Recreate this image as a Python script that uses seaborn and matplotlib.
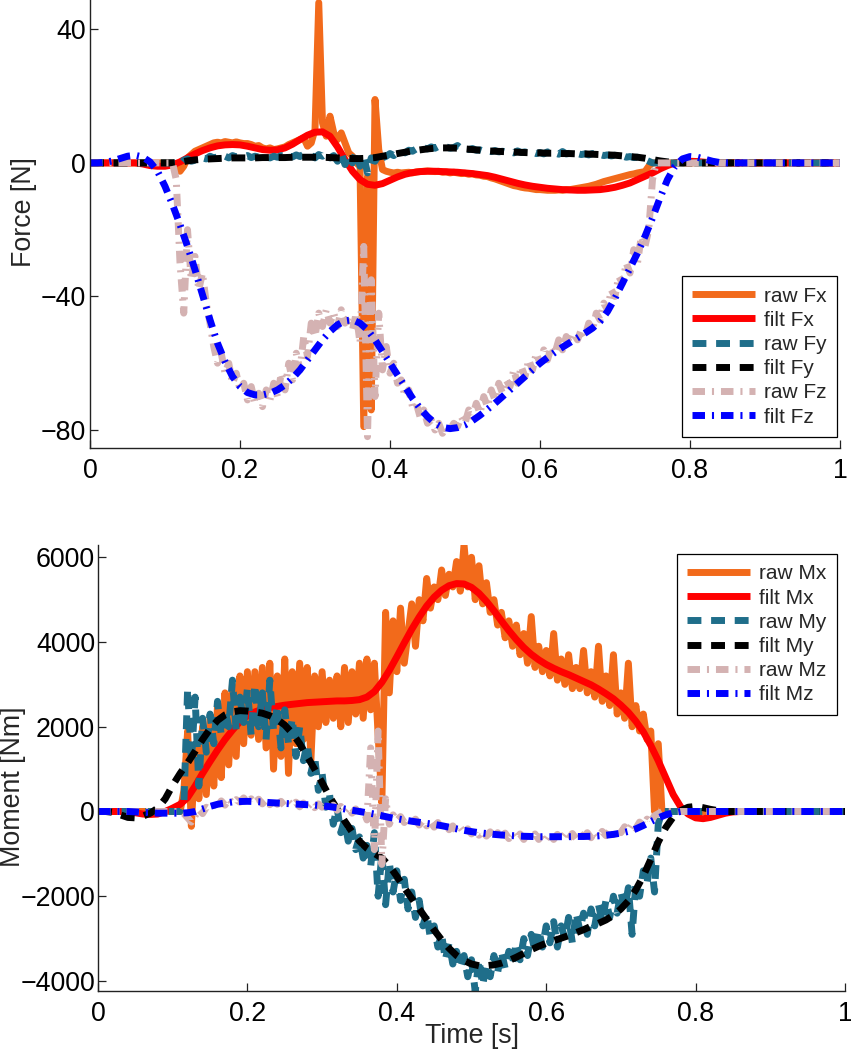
import numpy as np
import matplotlib
matplotlib.use("Agg")
import matplotlib.pyplot as plt
import seaborn as sns

# ---------------- data ----------------
# filtered signals sampled every 0.01 s (0 .. 1 s)
filt_t = np.round(np.linspace(0.0, 1.0, 101), 3)
# raw signals: baseline, contact phase every 0.005 s (0.115 .. 0.755 s), baseline
raw_t = np.concatenate(([0.0, 0.11], np.round(np.linspace(0.115, 0.755, 129), 3), [0.76, 1.0]))

raw_fx = [0.0, 0.0,
    -1.0, -2.5, -1.0, 1.5, 2.5, 3.5, 4.0, 4.5, 5.0, 5.5,
    6.0, 6.2, 6.0, 6.4, 6.2, 6.0, 6.3, 6.0, 5.8, 5.8,
    5.5, 5.0, 5.2, 4.5, 4.2, 4.5, 4.0, 4.2, 4.5, 4.8,
    5.5, 6.0, 6.5, 7.0, 7.5, 5.0, 6.0, 10.0, 48.0, 12.0,
    8.0, 14.0, 9.0, 7.0, 9.0, 6.0, 3.0, 2.0, 0.0, -1.0,
    -79.0, -4.0, -74.0, 19.0, 4.0, -2.0, -2.5, -2.8, -3.0, -2.8,
    -3.0, -2.9, -2.8, -3.0, -2.7, -2.6, -2.5, -2.4, -2.5, -2.6,
    -2.5, -2.8, -2.7, -3.0, -2.8, -3.0, -3.2, -3.1, -3.4, -3.3,
    -3.6, -3.7, -4.0, -4.1, -4.5, -4.8, -5.2, -5.6, -6.0, -6.4,
    -6.8, -7.0, -7.3, -7.5, -7.6, -7.8, -8.0, -8.0, -8.1, -8.2,
    -8.2, -8.2, -8.1, -8.2, -8.0, -8.0, -7.8, -7.6, -7.4, -7.2,
    -7.0, -6.7, -6.4, -6.0, -5.6, -5.3, -5.0, -4.7, -4.4, -4.1,
    -3.8, -3.5, -3.3, -3.0, -2.8, -2.6, -1.0, 0.0, 0.0,
    0.0, 0.0]

raw_fy = [0.0, 0.0,
    0.0, -0.5, 0.8, 1.2, 0.5, 0.8, 1.0, 1.5, 1.2, 2.0,
    1.5, 1.8, 2.5, 2.0, 1.5, 2.2, 1.8, 2.4, 1.9, 2.2,
    1.6, 2.0, 1.7, 2.3, 1.8, 1.5, 2.0, 1.7, 2.2, 1.6,
    2.0, 1.8, 2.4, 1.9, 2.6, 1.8, 2.2, 1.5, 2.5, 2.0,
    2.8, 1.5, 2.2, 0.5, 3.0, -0.5, 2.5, 0.0, 3.5, -1.0,
    2.0, -3.0, 1.5, 0.5, 2.5, 1.5, 2.0, 2.8, 2.2, 3.0,
    3.5, 3.0, 3.8, 3.5, 4.2, 3.9, 4.5, 4.2, 4.8, 4.4,
    5.0, 4.6, 4.8, 4.4, 4.6, 5.2, 4.3, 4.4, 4.0, 4.3,
    3.8, 3.9, 3.5, 3.8, 3.4, 3.7, 3.3, 3.5, 3.2, 3.4,
    3.0, 3.6, 3.1, 3.3, 2.9, 3.2, 2.8, 3.1, 2.7, 3.3,
    2.8, 3.0, 2.6, 3.4, 2.7, 2.9, 2.6, 2.8, 2.5, 2.7,
    2.4, 2.8, 2.3, 2.5, 2.2, 2.4, 2.1, 2.3, 1.9, 2.1,
    1.7, 1.9, 1.6, 1.7, 1.3, 1.0, 0.5, 0.0, 0.0,
    0.0, 0.0]

raw_fz = [0.0, 0.0,
    -5, -30, -45, -20, -35, -28, -38, -33, -42, -48,
    -55, -60, -57, -63, -60, -66, -63, -68, -66, -71,
    -67, -72, -69, -73, -68, -71, -66, -70, -63, -68,
    -60, -65, -57, -62, -52, -58, -48, -52, -45, -49,
    -44, -48, -45, -49, -44, -48, -46, -50, -45, -54,
    -25, -82, -35, -70, -45, -62, -55, -63, -60, -66,
    -65, -70, -68, -73, -72, -76, -74, -78, -77, -80,
    -78, -81, -79, -80, -78, -79, -76, -78, -74, -76,
    -72, -75, -70, -73, -68, -71, -66, -69, -65, -67,
    -62, -66, -61, -64, -59, -62, -57, -60, -56, -59,
    -55, -57, -53, -56, -52, -54, -51, -53, -50, -52,
    -48, -50, -45, -47, -42, -44, -38, -40, -34, -36,
    -30, -33, -26, -30, -22, -25, -20, -5, 0,
    0.0, 0.0]

filt_fx = [
    0.0, 0.0, 0.0, 0.0, 0.0, 0.0, 0.0, -0.3, -0.8, -1.0,
    -1.0, -0.6, 0.3, 1.5, 2.7, 3.7, 4.5, 5.1, 5.4, 5.5,
    5.4, 5.0, 4.5, 4.0, 3.8, 3.9, 4.5, 5.6, 7.0, 8.3,
    9.2, 9.3, 8.0, 4.8, 1.0, -2.5, -5.0, -6.4, -6.7, -6.2,
    -5.2, -4.2, -3.4, -2.9, -2.6, -2.5, -2.5, -2.6, -2.7, -2.8,
    -3.0, -3.2, -3.5, -3.8, -4.3, -4.9, -5.5, -6.1, -6.6, -7.0,
    -7.3, -7.6, -7.8, -8.0, -8.1, -8.2, -8.2, -8.1, -8.0, -7.7,
    -7.3, -6.7, -6.0, -5.0, -4.0, -3.0, -1.8, -0.8, 0.0, 0.4,
    0.5, 0.4, 0.2, 0.0, 0.0, 0.0, 0.0, 0.0, 0.0, 0.0,
    0.0, 0.0, 0.0, 0.0, 0.0, 0.0, 0.0, 0.0, 0.0, 0.0, 0.0]

filt_fy = [
    0.0, 0.0, 0.0, 0.0, 0.0, 0.0, 0.0, 0.0, 0.0, 0.0,
    0.0, 0.0, 0.2, 0.6, 0.9, 1.1, 1.2, 1.3, 1.4, 1.5,
    1.5, 1.5, 1.5, 1.6, 1.6, 1.6, 1.6, 1.7, 1.7, 1.7,
    1.7, 1.7, 1.6, 1.5, 1.4, 1.3, 1.3, 1.4, 1.6, 2.0,
    2.4, 2.8, 3.2, 3.6, 3.9, 4.2, 4.4, 4.5, 4.5, 4.4,
    4.2, 4.0, 3.8, 3.6, 3.5, 3.4, 3.3, 3.2, 3.1, 3.0,
    3.0, 2.9, 2.9, 2.8, 2.8, 2.7, 2.7, 2.6, 2.5, 2.4,
    2.3, 2.1, 1.9, 1.7, 1.4, 1.0, 0.6, 0.3, 0.1, 0.0,
    0.0, 0.0, 0.0, 0.0, 0.0, 0.0, 0.0, 0.0, 0.0, 0.0,
    0.0, 0.0, 0.0, 0.0, 0.0, 0.0, 0.0, 0.0, 0.0, 0.0, 0.0]

filt_fz = [
    0.0, 0.0, 0.2, 0.6, 1.3, 2.0, 2.3, 1.8, 0.3, -2.5,
    -7.0, -12.5, -18.5, -25.0, -32.0, -39.5, -47.0, -54.0, -59.5, -64.0,
    -67.0, -68.8, -69.5, -69.5, -69.0, -68.0, -66.5, -64.5, -62.0, -59.0,
    -56.0, -53.0, -50.5, -48.5, -47.3, -47.0, -48.0, -50.0, -53.0, -56.5,
    -60.0, -63.5, -67.0, -70.5, -73.5, -76.0, -78.0, -79.2, -79.6, -79.3,
    -78.5, -77.2, -75.6, -73.8, -72.0, -70.0, -68.0, -66.0, -64.0, -62.0,
    -60.0, -58.3, -56.7, -55.2, -53.8, -52.4, -51.0, -49.5, -47.5, -44.5,
    -40.5, -36.0, -31.5, -27.0, -22.0, -16.5, -10.5, -5.0, -1.0, 1.2,
    1.9, 1.7, 1.1, 0.5, 0.1, 0.0, 0.0, 0.0, 0.0, 0.0,
    0.0, 0.0, 0.0, 0.0, 0.0, 0.0, 0.0, 0.0, 0.0, 0.0, 0.0]

raw_mx = [0.0, 0.0,
    500, 1900, -350, 1500, 300, 2000, 400, 2200, 600, 2500,
    800, 2800, 1100, 3000, 1300, 3200, 1600, 3300, 1800, 3300,
    1700, 3400, 1500, 3500, 1000, 3200, 1300, 3600, 900, 3300,
    1600, 3500, 1700, 3400, 1200, 3200, 2000, 3300, 2100, 3100,
    2200, 3200, 2000, 3400, 2100, 3300, 2300, 3500, 2200, 3600,
    2400, 3500, 1800, 200, 4700, 2800, 4500, 3300, 4800, 3500,
    4200, 4900, 3900, 5000, 4500, 5500, 4800, 5300, 5000, 5700,
    5100, 5600, 5300, 5900, 5200, 6300, 5300, 6000, 5000, 5800,
    4900, 5400, 4700, 5000, 4400, 4700, 4100, 4500, 3900, 4400,
    3700, 4200, 3500, 4600, 3400, 3900, 3300, 3800, 3200, 4200,
    3100, 3600, 3000, 3700, 2900, 3400, 2900, 3800, 2800, 3300,
    2700, 3900, 2600, 3200, 2500, 3700, 2300, 2800, 2200, 3500,
    2000, 2500, 1900, 2300, 1700, 1900, 0, 1600, 0,
    0.0, 0.0]

raw_my = [0.0, 0.0,
    200, 2900, 1200, 2700, 600, 2200, 1400, 2300, 1600, 2600,
    1800, 2400, 2000, 3100, 1900, 2700, 2100, 2900, 1800, 3000,
    2000, 2800, 1700, 3100, 1900, 2500, 1500, 2400, 1600, 2200,
    1300, 2000, 1200, 1600, 900, 1300, 500, 900, 100, 400,
    -300, 100, -500, -200, -700, -400, -900, -600, -1100, -800,
    -1300, -500, -2000, -1000, -2200, -1200, -1900, -1400, -2100, -1600,
    -2300, -1900, -2500, -2100, -2700, -2400, -3000, -2700, -3200, -2900,
    -3500, -3100, -3600, -3300, -3700, -3400, -3900, -3500, -4250, -3500,
    -4100, -3600, -3900, -3400, -3800, -3300, -3700, -3300, -3600, -3100,
    -3500, -3000, -3400, -2900, -3300, -2800, -3200, -2700, -3100, -2600,
    -3200, -2700, -3000, -2500, -3100, -2400, -2800, -2400, -2900, -2300,
    -2700, -2200, -2600, -2100, -2500, -2000, -2400, -1900, -2300, -1800,
    -2900, -1700, -2000, -1400, -1700, -1100, -1900, -300, 0,
    0.0, 0.0]

raw_mz = [0.0, 0.0,
    -50, -150, -250, -100, 50, -50, 100, 50, 150, 100,
    250, 150, 300, 200, 280, 220, 320, 230, 300, 200,
    290, 180, 270, 160, 260, 170, 240, 130, 230, 140,
    220, 110, 200, 100, 190, 90, 180, 100, 200, 60,
    150, 30, 120, 0, 100, -40, 60, -80, 50, -200,
    1500, -900, 1900, -1250, 300, -300, -80, -220, -120, -260,
    -150, -290, -180, -320, -210, -340, -240, -370, -260, -400,
    -300, -430, -340, -470, -380, -500, -410, -530, -440, -560,
    -470, -580, -480, -610, -500, -620, -510, -640, -520, -650,
    -530, -660, -520, -650, -530, -660, -540, -650, -530, -660,
    -540, -640, -530, -650, -520, -640, -510, -630, -500, -620,
    -480, -600, -470, -570, -440, -540, -400, -500, -360, -450,
    -300, -400, -250, -330, -180, -250, -100, -50, 0,
    0.0, 0.0]

filt_mx = [
    0, 0, 0, 0, 0, -30, -60, -70, -60, 0,
    80, 170, 330, 600, 900, 1180, 1450, 1700, 1920, 2120,
    2260, 2350, 2410, 2450, 2480, 2510, 2530, 2550, 2570, 2580,
    2590, 2600, 2610, 2610, 2620, 2640, 2700, 2830, 3050, 3330,
    3650, 3980, 4300, 4590, 4850, 5060, 5220, 5330, 5380, 5370,
    5290, 5150, 4960, 4740, 4500, 4270, 4060, 3870, 3710, 3580,
    3470, 3380, 3300, 3230, 3150, 3070, 2990, 2890, 2780, 2660,
    2510, 2340, 2130, 1880, 1560, 1200, 800, 400, 110, -60,
    -150, -170, -140, -90, -40, -10, 0, 0, 0, 0,
    0, 0, 0, 0, 0, 0, 0, 0, 0, 0, 0]

filt_my = [
    0, 0, -20, -80, -140, -150, -110, -40, 80, 300,
    620, 900, 1150, 1420, 1700, 1950, 2150, 2280, 2350, 2380,
    2370, 2350, 2320, 2260, 2170, 2040, 1850, 1600, 1300, 1000,
    680, 350, 60, -220, -480, -700, -870, -990, -1100, -1280,
    -1530, -1800, -2050, -2300, -2550, -2800, -3030, -3230, -3400, -3520,
    -3600, -3640, -3640, -3620, -3580, -3520, -3440, -3350, -3260, -3180,
    -3110, -3050, -2990, -2930, -2860, -2790, -2710, -2640, -2560, -2450,
    -2300, -2110, -1850, -1520, -1130, -720, -380, -130, 20, 100,
    120, 90, 50, 20, 0, 0, 0, 0, 0, 0,
    0, 0, 0, 0, 0, 0, 0, 0, 0, 0, 0]

filt_mz = [
    0, 0, 0, 0, 0, -10, -20, -30, -40, -40,
    -40, -40, -30, 0, 60, 120, 170, 200, 225, 235,
    240, 235, 225, 210, 200, 190, 180, 170, 160, 150,
    135, 115, 90, 60, 30, 0, -30, -60, -100, -140,
    -170, -200, -230, -255, -280, -305, -335, -370, -410, -445,
    -475, -500, -520, -540, -555, -565, -575, -585, -590, -595,
    -595, -595, -595, -595, -590, -590, -585, -575, -560, -540,
    -510, -470, -410, -330, -240, -150, -80, -30, 0, 0,
    0, 0, 0, 0, 0, 0, 0, 0, 0, 0,
    0, 0, 0, 0, 0, 0, 0, 0, 0, 0, 0]

x_ticks = [0, 0.2, 0.4, 0.6, 0.8, 1]
x_tick_labels = ["0", "0.2", "0.4", "0.6", "0.8", "1"]
force_ticks = [-80, -40, 0, 40]
moment_ticks = [-4000, -2000, 0, 2000, 4000, 6000]

for name, arr in [("raw_fx", raw_fx), ("raw_fy", raw_fy), ("raw_fz", raw_fz),
                  ("raw_mx", raw_mx), ("raw_my", raw_my), ("raw_mz", raw_mz)]:
    assert len(arr) == len(raw_t), (name, len(arr), len(raw_t))
for name, arr in [("filt_fx", filt_fx), ("filt_fy", filt_fy), ("filt_fz", filt_fz),
                  ("filt_mx", filt_mx), ("filt_my", filt_my), ("filt_mz", filt_mz)]:
    assert len(arr) == len(filt_t), (name, len(arr))

# ---------------- style ----------------
sns.set_theme(style="white")
plt.rcParams["font.family"] = ["Liberation Sans", "DejaVu Sans"]

C_ORANGE = "#F26A1B"
C_RED = "#FF0000"
C_TEAL = "#1F6E8A"
C_BLACK = "#000000"
C_PINK = "#D4B2B2"
C_BLUE = "#0000FF"

LW = 5
DASH = (0, (2.0, 1.4))
DASHDOT = (0, (1.8, 1.0, 0.3, 1.0))

fig = plt.figure(figsize=(8.51, 10.5), dpi=100)
ax1 = fig.add_axes([90 / 851, 1 - 448 / 1050, 750 / 851, 448 / 1050])
ax2 = fig.add_axes([98 / 851, 59 / 1050, 747 / 851, 446 / 1050])


def draw(ax, series, labels):
    (rx, fx, ry, fy, rz, fz) = series
    specs = [
        (raw_t, rx, C_ORANGE, "-", labels[0]),
        (filt_t, fx, C_RED, "-", labels[1]),
        (raw_t, ry, C_TEAL, DASH, labels[2]),
        (filt_t, fy, C_BLACK, DASH, labels[3]),
        (raw_t, rz, C_PINK, DASHDOT, labels[4]),
        (filt_t, fz, C_BLUE, DASHDOT, labels[5]),
    ]
    for t, v, c, ls, lab in specs:
        sns.lineplot(x=t, y=v, ax=ax, color=c, linewidth=LW, label=lab,
                     estimator=None, sort=False, legend=False)
        line = ax.lines[-1]
        line.set_linestyle(ls)
        line.set_dash_capstyle("butt")
        line.set_solid_capstyle("butt")


draw(ax1, (raw_fx, filt_fx, raw_fy, filt_fy, raw_fz, filt_fz),
     ["raw Fx", "filt Fx", "raw Fy", "filt Fy", "raw Fz", "filt Fz"])
draw(ax2, (raw_mx, filt_mx, raw_my, filt_my, raw_mz, filt_mz),
     ["raw Mx", "filt Mx", "raw My", "filt My", "raw Mz", "filt Mz"])

FS = 19.3
for ax in (ax1, ax2):
    ax.set_xlim(0, 1)
    ax.set_xticks(x_ticks)
    ax.set_xticklabels(x_tick_labels)
    for s in ("top", "right"):
        ax.spines[s].set_visible(False)
    for s in ("left", "bottom"):
        ax.spines[s].set_color("#222222")
        ax.spines[s].set_linewidth(1.0)
    ax.tick_params(axis="both", which="both", direction="in", length=6, width=0.9,
                   colors="#222222", labelcolor="black", labelsize=FS,
                   bottom=True, left=True, top=False, right=False)
    ax.tick_params(axis="x", pad=7)
    ax.set_facecolor("white")

ax1.tick_params(axis="y", pad=3)
ax2.tick_params(axis="y", pad=2)

ax1.set_ylim(-85.4, 48.8)
ax1.set_yticks(force_ticks)
ax2.set_ylim(-4237, 6290)
ax2.set_yticks(moment_ticks)

ax1.set_xlabel("")
ax1.set_ylabel("Force [N]", fontsize=FS)
ax1.yaxis.set_label_coords(-0.071, 0.527)
ax2.set_ylabel("Moment [Nm]", fontsize=FS)
ax2.yaxis.set_label_coords(-0.097, 0.457)
ax2.set_xlabel("Time [s]", fontsize=FS)
ax2.xaxis.set_label_coords(0.501, -0.072)

leg_kw = dict(fontsize=15, frameon=True, fancybox=False, framealpha=1,
              edgecolor="black", handlelength=3.0, handletextpad=0.45,
              labelspacing=0.25, borderpad=0.5, borderaxespad=0.0)
l1 = ax1.legend(loc="lower right", bbox_to_anchor=(0.996, 0.0246), **leg_kw)
l2 = ax2.legend(loc="upper right", bbox_to_anchor=(0.989, 0.980), **leg_kw)
for lg in (l1, l2):
    lg.get_frame().set_linewidth(0.9)

fig.savefig("out.png", dpi=100, facecolor="white")
